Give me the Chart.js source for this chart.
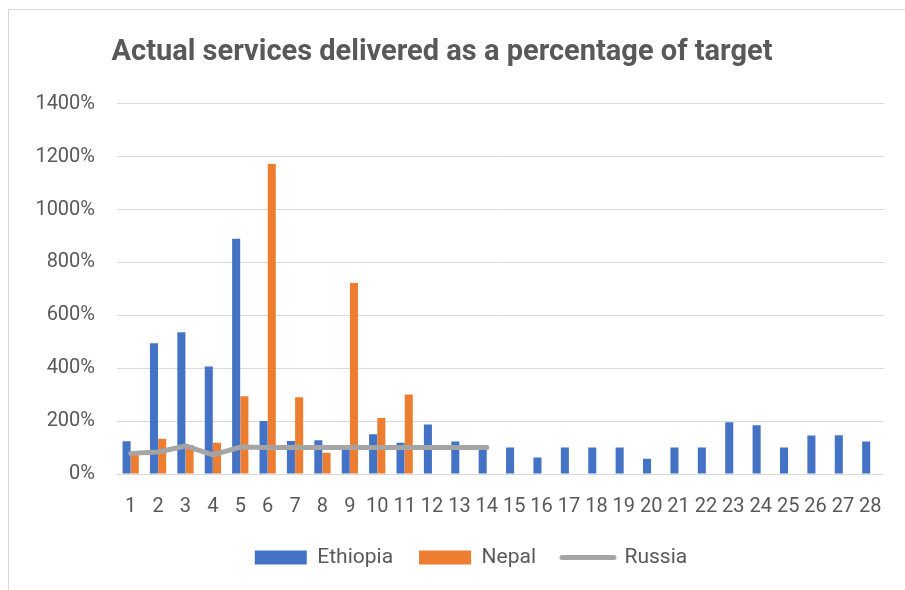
<!DOCTYPE html>
<html>
<head>
<meta charset="utf-8">
<script src="https://cdn.jsdelivr.net/npm/chart.js@4"></script>
<style>
  html, body { margin: 0; padding: 0; background: #fff; overflow: hidden; }
  #wrap { position: relative; width: 905px; height: 590px; }
  #frame { position: absolute; left: 8px; top: 9px; width: 920px; height: 620px; border: 1px solid #d9d9d9; box-sizing: border-box; }
  canvas { position: absolute; left: 0; top: 0; }
</style>
</head>
<body>
<div id="wrap">
  <div id="frame"></div>
  <canvas id="c" width="905" height="590"></canvas>
</div>
<script>
const categories = ['1','2','3','4','5','6','7','8','9','10','11','12','13','14','15','16','17','18','19','20','21','22','23','24','25','26','27','28'];
const ethiopia = [124, 494, 536, 407, 890, 200, 125, 128, 100, 150, 118, 187, 123, 100, 100, 62, 100, 100, 100, 58, 100, 100, 196, 184, 100, 146, 147, 123];
const nepal = [75, 133, 110, 118, 294, 1172, 290, 80, 722, 212, 301, null, null, null, null, null, null, null, null, null, null, null, null, null, null, null, null, null];
const russia = [78, 83, 106, 72, 102, 100, 100, 100, 100, 100, 100, 100, 100, 100, null, null, null, null, null, null, null, null, null, null, null, null, null, null];
const yTicks = [0, 200, 400, 600, 800, 1000, 1200, 1400];

const FONT = 'Roboto, "Liberation Sans", sans-serif';
const TXT = '#595959';

new Chart(document.getElementById('c'), {
  data: {
    labels: categories,
    datasets: [
      { type: 'line', label: 'Russia', data: russia, borderColor: '#A5A5A5', backgroundColor: '#A5A5A5',
        borderWidth: 5, pointRadius: 0, pointHoverRadius: 0, borderJoinStyle: 'round', borderCapStyle: 'round',
        tension: 0, spanGaps: false, order: 0 },
      { type: 'bar', label: 'Ethiopia', data: ethiopia, backgroundColor: '#4472C4', order: 1,
        categoryPercentage: 0.6, barPercentage: 0.98 },
      { type: 'bar', label: 'Nepal', data: nepal, backgroundColor: '#ED7D31', order: 1,
        categoryPercentage: 0.6, barPercentage: 0.98 }
    ]
  },
  options: {
    responsive: false,
    animation: false,
    layout: { padding: { left: 0, right: 21, top: 0, bottom: 12 } },
    plugins: {
      title: { display: true, text: 'Actual services delivered as a percentage of target',
        color: TXT, font: { family: FONT, size: 29, weight: 'bold' }, padding: { top: 35, bottom: 34 } },
      tooltip: { enabled: false },
      legend: {
        position: 'bottom',
        labels: {
          color: TXT, font: { family: FONT, size: 21 }, boxWidth: 52, boxHeight: 14, padding: 26,
          usePointStyle: true, pointStyleWidth: 52,
          generateLabels(chart) {
            const order = [1, 2, 0];
            return order.map(i => {
              const ds = chart.data.datasets[i];
              const isLine = ds.type === 'line';
              return {
                text: ds.label, datasetIndex: i,
                fillStyle: ds.backgroundColor, strokeStyle: isLine ? ds.borderColor : ds.backgroundColor,
                lineWidth: isLine ? 5 : 0, pointStyle: isLine ? 'line' : 'rect', lineCap: 'round',
                fontColor: TXT, hidden: false
              };
            });
          }
        }
      }
    },
    scales: {
      x: {
        grid: { display: false },
        border: { display: false },
        afterFit(scale) { scale.height -= 11; },
        ticks: { color: TXT, font: { family: FONT, size: 20 }, maxRotation: 0, autoSkip: false, padding: 13 }
      },
      y: {
        min: 0, max: 1400,
        afterBuildTicks(scale) { scale.ticks = yTicks.map(v => ({ value: v })); },
        afterFit(scale) { scale.width = 117; },
        grid: { color: '#d9d9d9', lineWidth: 1, drawTicks: false },
        border: { display: false },
        ticks: { color: TXT, font: { family: FONT, size: 20 }, padding: 22, callback: v => v + '%' }
      }
    }
  },
  plugins: [{
    id: 'legendTweak',
    afterInit(chart) {
      const lg = chart.legend;
      const orig = lg.fit;
      lg.fit = function () {
        orig.call(this);
        if (this.lineWidths && this.lineWidths.length) {
          this.lineWidths[0] -= 58;
        }
      };
    }
  }]
});
</script>
</body>
</html>
